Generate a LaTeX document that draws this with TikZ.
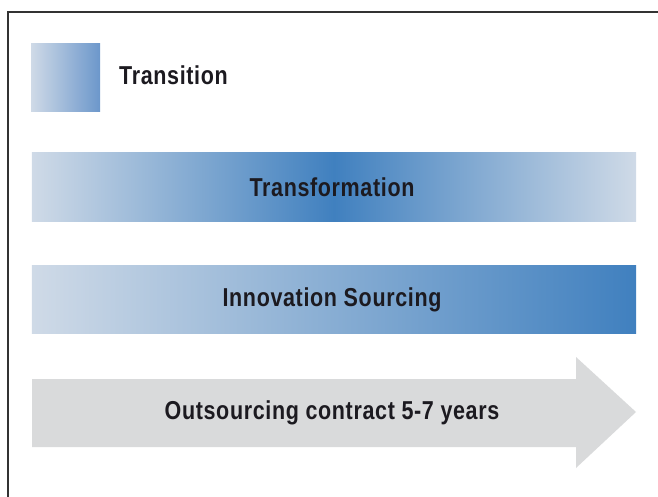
\documentclass[tikz,border=0pt]{standalone}
\usepackage{fontspec}
\setmainfont{Liberation Sans}
\newfontfamily\condfont[FakeStretch=0.83,LetterSpace=2.5]{Liberation Sans}
\definecolor{lightblue}{HTML}{CFDAE7}
\definecolor{midblue}{HTML}{4080BF}
\definecolor{transblue}{HTML}{6C97CB}
\definecolor{arrowgray}{HTML}{D9DADB}
\definecolor{txt}{HTML}{1C1A20}
\definecolor{framegray}{HTML}{333333}
\begin{document}
\begin{tikzpicture}[x=1bp,y=-1bp,
  lbl/.style={font=\condfont\bfseries\fontsize{26}{28}\selectfont, text=txt, inner sep=0pt},
  bar/.style={minimum width=604bp, minimum height=68bp, inner sep=0pt, outer sep=0pt, draw=none}]
\useasboundingbox (0,0) rectangle (658,497);
\draw[framegray, line width=1.4bp] (658,12) -- (8,12) -- (8,497);
% Transition
\node[minimum width=69bp, minimum height=68bp, inner sep=0pt, left color=lightblue, right color=transblue] (trbox) at (65.5,78) {};
\node[lbl, anchor=west] (trtxt) at (119,75.5) {Transition};
% Transformation
\node[bar, left color=lightblue, right color=lightblue, middle color=midblue] (tf) at (334,187) {};
\node[lbl] (tftxt) at (332,187.5) {Transformation};
% Innovation Sourcing
\node[bar, left color=lightblue, right color=midblue] (inv) at (334,299) {};
\node[lbl] (invtxt) at (332,300) {Innovation Sourcing};
% Arrow
\fill[arrowgray] (32,379) -- (576,379) -- (576,357) -- (636,412) -- (576,468) -- (576,447) -- (32,447) -- cycle;
\node[lbl] (out) at (332,412.5) {Outsourcing contract 5-7 years};
\end{tikzpicture}
\end{document}
